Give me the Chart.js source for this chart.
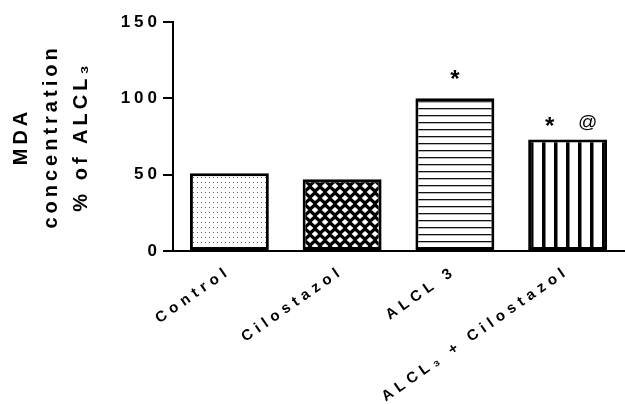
<!DOCTYPE html>
<html>
<head>
<meta charset="utf-8">
<script src="https://cdn.jsdelivr.net/npm/chart.js@4/dist/chart.umd.min.js"></script>
<style>
  html, body { margin: 0; padding: 0; background: #fff; }
  #wrap { width: 625px; height: 404px; }
</style>
</head>
<body>
<div id="wrap"><canvas id="chart"></canvas></div>
<script>
const groups = ['Control', 'Cilostazol', 'ALCL 3', 'ALCL\u2083 + Cilostazol']
const mdaValues = [51, 47, 100, 73]
const marks = [[], [], ['*'], ['*', '@']]
const yTicks = [0, 50, 100, 150]
const yTitle = ['MDA', 'concentration', '% of ALCL\u2083']

// small canvas tiles used as bar fills
function makeTile(w, h, paint) {
  const c = document.createElement('canvas')
  c.width = w
  c.height = h
  const t = c.getContext('2d')
  paint(t, w, h)
  return t.createPattern(c, 'repeat')
}

const ctx = document.getElementById('chart').getContext('2d')

const dots = makeTile(4, 5, (t, w, h) => {
  t.fillStyle = '#fff'
  t.fillRect(0, 0, w, h)
  t.fillStyle = '#666'
  t.fillRect(1, 2, 1, 1)
})

const lattice = makeTile(10, 12, (t, w, h) => {
  t.fillStyle = '#000'
  t.fillRect(0, 0, w, h)
  t.fillStyle = '#fff'
  const diamond = (cx, cy) => {
    t.beginPath()
    t.moveTo(cx - 3.4, cy)
    t.lineTo(cx, cy - 3)
    t.lineTo(cx + 3.4, cy)
    t.lineTo(cx, cy + 3)
    t.closePath()
    t.fill()
  }
  diamond(0, 0); diamond(w, 0); diamond(0, h); diamond(w, h)
  diamond(w / 2, h / 2)
})

const hLines = makeTile(4, 7, (t, w, h) => {
  t.fillStyle = '#fff'
  t.fillRect(0, 0, w, h)
  t.fillStyle = '#111'
  t.fillRect(0, 3, w, 1.3)
})

const vLines = makeTile(12, 4, (t, w, h) => {
  t.fillStyle = '#fff'
  t.fillRect(0, 0, w, h)
  t.fillStyle = '#000'
  t.fillRect(2, 0, 3.5, h)
})

const spacing = {
  id: 'spacing',
  beforeDraw(chart) {
    chart.ctx.letterSpacing = '4px'
  },
  afterDatasetsDraw(chart) {
    chart.ctx.letterSpacing = '5px'
  },
  afterDraw(chart) {
    const c = chart.ctx
    const x = chart.scales.x
    const y = chart.scales.y
    c.save()
    c.letterSpacing = '0px'
    c.fillStyle = '#000'
    c.textAlign = 'center'
    c.textBaseline = 'middle'
    marks.forEach((list, i) => {
      const top = y.getPixelForValue(mdaValues[i])
      const cx = x.getPixelForValue(i)
      if (list.length === 1) {
        c.font = 'bold 24px "Liberation Sans", Arial, sans-serif'
        c.fillText(list[0], cx, top - 18)
      } else if (list.length === 2) {
        c.font = 'bold 24px "Liberation Sans", Arial, sans-serif'
        c.fillText(list[0], cx - 18, top - 12)
        c.font = '19px "Liberation Sans", Arial, sans-serif'
        c.fillText(list[1], cx + 20, top - 17)
      }
    })
    c.restore()
  }
}

new Chart(ctx, {
  type: 'bar',
  data: {
    labels: groups,
    datasets: [{
      data: mdaValues,
      backgroundColor: [dots, lattice, hLines, vLines],
      borderColor: '#000',
      borderWidth: 3,
      borderSkipped: false,
      categoryPercentage: 0.7,
      barPercentage: 1
    }]
  },
  options: {
    responsive: true,
    maintainAspectRatio: false,
    animation: false,
    layout: { padding: { top: 22, right: 1, left: 0, bottom: 0 } },
    plugins: {
      legend: { display: false },
      tooltip: { enabled: false }
    },
    scales: {
      x: {
        grid: { display: false },
        border: { color: '#000', width: 2 },
        ticks: {
          z: 1,
          autoSkip: false,
          minRotation: 35,
          maxRotation: 35,
          padding: 3,
          color: '#000',
          font: { family: '"Liberation Sans", Arial, sans-serif', size: 15, weight: 'bold' }
        },
        afterFit(scale) { scale.height = 153 }
      },
      y: {
        min: 0,
        max: 150,
        afterBuildTicks(scale) { scale.ticks = yTicks.map(v => ({ value: v })) },
        grid: { drawOnChartArea: false, color: '#000', lineWidth: 2, tickLength: 10 },
        border: { color: '#000', width: 2 },
        ticks: {
          padding: 2,
          color: '#000',
          font: { family: '"Liberation Sans", Arial, sans-serif', size: 17, weight: 'bold' }
        },
        title: {
          display: true,
          text: yTitle,
          color: '#000',
          padding: { top: 6, bottom: 0 },
          font: { family: '"Liberation Sans", Arial, sans-serif', size: 20, weight: 'bold', lineHeight: 1.5 }
        },
        afterFit(scale) { scale.width = 173 }
      }
    }
  },
  plugins: [spacing]
})
</script>
</body>
</html>
